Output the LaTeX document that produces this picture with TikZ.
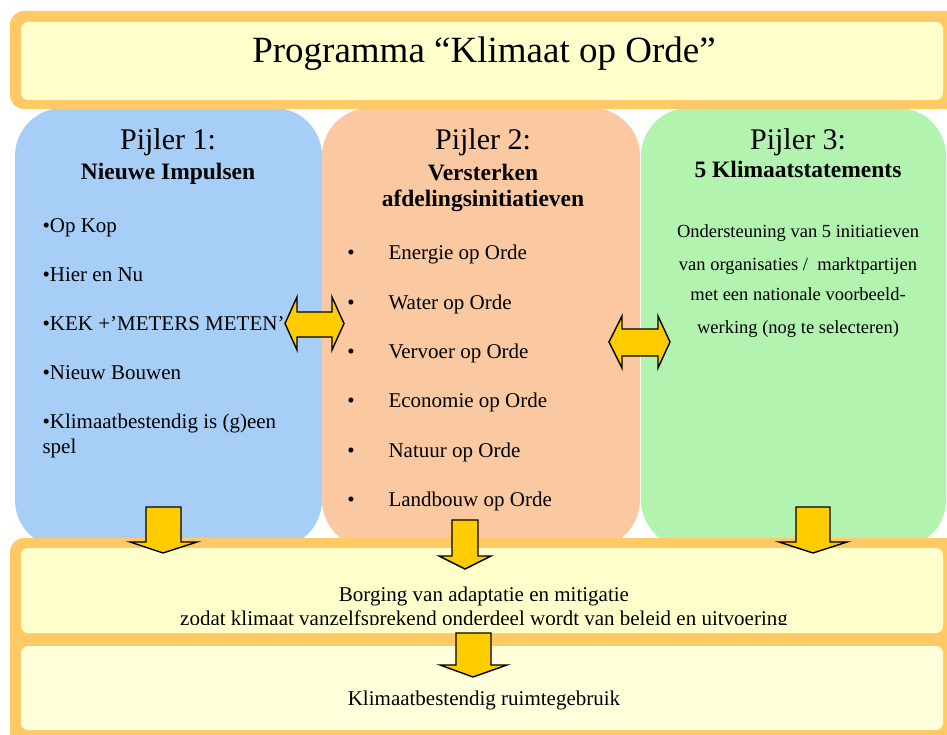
\documentclass[tikz,border=0pt]{standalone}
\usepackage{fontspec}
\setmainfont{Liberation Serif}
\definecolor{bandorange}{HTML}{FFC966}
\definecolor{bandyellow}{HTML}{FFFFCC}
\definecolor{bandpale}{HTML}{FFFFDC}
\definecolor{pilblue}{HTML}{A6CEF7}
\definecolor{pilorange}{HTML}{FBC9A1}
\definecolor{pilgreen}{HTML}{B2F3B0}
\definecolor{arrowyellow}{HTML}{FFCC00}
\tikzset{
  outerband/.style={fill=bandorange, draw=none, rounded corners=14pt},
  innerband/.style={draw=none, rounded corners=7pt},
  pillar/.style={draw=none, rounded corners=48pt},
  blockarrow/.style={fill=arrowyellow, draw=black, line width=1.4pt, line join=miter},
  headtxt/.style={anchor=base, font=\fontsize{30}{34}\selectfont},
  subtxt/.style={anchor=base, font=\fontsize{23.5}{27}\selectfont\bfseries, align=center},
  itemtxt/.style={anchor=base west, font=\fontsize{21}{24}\selectfont},
  greentxt/.style={anchor=base, font=\fontsize{18.5}{22}\selectfont},
  bandtxt/.style={anchor=base, font=\fontsize{21}{24}\selectfont},
}
\newcommand{\KOdown}[8]{% shaftL shaftR top headY headL headR tipX tipY
  \draw[blockarrow] (#1,#3) -- (#2,#3) -- (#2,#4) -- (#6,#4) -- (#7,#8) -- (#5,#4) -- (#1,#4) -- cycle;}
\begin{document}
\begin{tikzpicture}[x=1pt,y=-1pt]
\useasboundingbox (0,0) rectangle (947,735);
\fill[white] (0,0) rectangle (947,735);
% pillars
\fill[pillar, pilblue] (15,108) rectangle (322,548);
\fill[pillar, pilorange] (322,108) rectangle (640,548);
\fill[pillar, pilgreen] (641,108) rectangle (946,548);
% title banner
\fill[outerband] (10,11) rectangle (965,109);
\fill[innerband, bandyellow] (21,22) rectangle (943,100);
\node[anchor=base, font=\fontsize{37}{40}\selectfont] (title) at (484,63) {Programma “Klimaat op Orde”};
% bottom bands
\fill[outerband] (10,538) rectangle (965,745);
\fill[innerband, bandyellow] (21,548) rectangle (943,633);
\fill[innerband, bandpale] (21,646) rectangle (943,730);
% pillar 1
\node[headtxt] (p1) at (168,150) {Pijler 1:};
\node[subtxt] (p1s) at (168,180) {Nieuwe Impulsen};
\node[itemtxt] (i11) at (39,233) {•Op Kop};
\node[itemtxt] (i12) at (39,281) {•Hier en Nu};
\node[itemtxt] (i13) at (39,330) {•KEK +’METERS METEN’};
\node[itemtxt] (i14) at (39,379) {•Nieuw Bouwen};
\node[itemtxt] (i15) at (39,428) {•Klimaatbestendig is (g)een};
\node[itemtxt] (i16) at (39,453) {spel};
% pillar 2
\node[headtxt] (p2) at (483,150) {Pijler 2:};
\node[subtxt] (p2s) at (483,181) {Versterken};
\node[subtxt] (p2t) at (483,207) {afdelingsinitiatieven};
\foreach \t/\yy/\nm in {Energie op Orde/260/a, Water op Orde/309/b, Vervoer op Orde/358/c, Economie op Orde/407/d, Natuur op Orde/457/e, Landbouw op Orde/506/f}{
  \node[itemtxt, anchor=base] (b\nm) at (351,\yy) {•};
  \node[itemtxt] (i2\nm) at (385,\yy) {\t};
}
% pillar 3
\node[headtxt] (p3) at (798,150) {Pijler 3:};
\node[subtxt] (p3s) at (798,178) {5 Klimaatstatements};
\node[greentxt] (g1) at (798,238) {Ondersteuning van 5 initiatieven};
\node[greentxt] (g2) at (798,270) {van organisaties /\ \ marktpartijen};
\node[greentxt] (g3) at (798,300) {met een nationale voorbeeld-};
\node[greentxt] (g4) at (798,333) {werking (nog te selecteren)};
% band texts
\node[bandtxt] (m1) at (484,601) {Borging van adaptatie en mitigatie};
\begin{scope}
\clip (0,560) rectangle (947,624);
\node[bandtxt] (m2) at (484,625) {zodat klimaat vanzelfsprekend onderdeel wordt van beleid en uitvoering};
\end{scope}
\node[bandtxt] (m3) at (484,705) {Klimaatbestendig ruimtegebruik};
% horizontal double arrows
\draw[blockarrow] (285,323.5) -- (297,297) -- (297,312) -- (332,312) -- (332,297) -- (344,323.5) -- (332,350) -- (332,337) -- (297,337) -- (297,350) -- cycle;
\draw[blockarrow] (609,342) -- (622,316) -- (622,329) -- (658,329) -- (658,316) -- (670,342) -- (658,368) -- (658,356) -- (622,356) -- (622,368) -- cycle;
% down arrows
\KOdown{146}{181}{507}{542}{130}{197}{163}{553}
\KOdown{452}{478}{520}{556}{439}{491}{465}{569}
\KOdown{796}{830}{507}{542}{779}{847}{813}{553}
\KOdown{456}{491}{633}{665}{440}{507}{473}{677}
\end{tikzpicture}
\end{document}
